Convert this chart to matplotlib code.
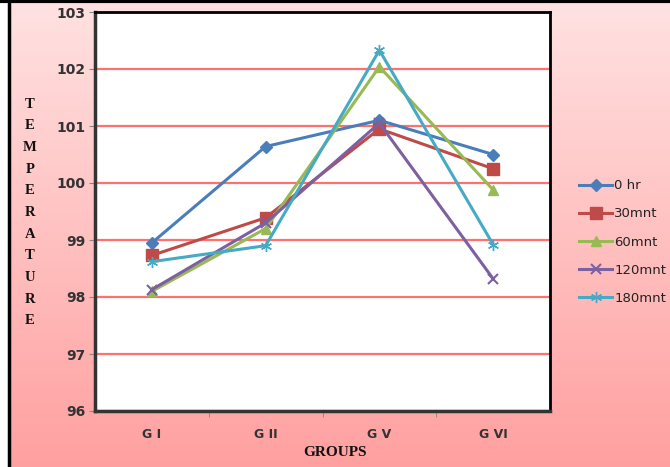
import numpy as np
import matplotlib.pyplot as plt
from matplotlib.colors import LinearSegmentedColormap

groups = ['G I', 'G II', 'G V', 'G VI']
series = ['0 hr', '30mnt', '60mnt', '120mnt', '180mnt']
hr0 = [98.95, 100.64, 101.1, 100.5]
mnt30 = [98.73, 99.39, 100.95, 100.25]
mnt60 = [98.1, 99.2, 102.04, 99.88]
mnt120 = [98.13, 99.3, 101.05, 98.32]
mnt180 = [98.62, 98.9, 102.33, 98.92]
yticks = [96, 97, 98, 99, 100, 101, 102, 103]

colors = ['#4A7EBB', '#BE4B48', '#98B954', '#7D60A0', '#46AAC5']
markers = ['D', 's', '^', 'x', (6, 2, 0)]
msizes = [6, 8, 7, 7, 8]

fig = plt.figure(figsize=(6.7, 4.67), dpi=100)

# pink gradient background
bg = fig.add_axes([0, 0, 1, 1], zorder=-10)
cmap = LinearSegmentedColormap.from_list('pk', ['#FFE2E2', '#FFA0A0'])
grad = np.linspace(0, 1, 256).reshape(-1, 1)
bg.imshow(grad, aspect='auto', cmap=cmap, extent=[0, 1, 0, 1], origin='upper')
bg.set_xlim(0, 1)
bg.set_ylim(0, 1)
bg.axis('off')
# white strip + black frame at the left and top edge
bg.axvspan(0, 7 / 670, color='white')
bg.axvline(8.5 / 670, color='black', lw=2.5)
bg.axhline(1 - 1 / 467, color='black', lw=3)

ax = fig.add_axes([95 / 670, 1 - 411 / 467, 455 / 670, 399 / 467])
ax.set_facecolor('white')
x = np.arange(len(groups))
for name, vals, c, m, ms in zip(series, [hr0, mnt30, mnt60, mnt120, mnt180], colors, markers, msizes):
    ax.plot(x, vals, color=c, lw=2.2, marker=m, ms=ms, mew=1.5 if m in ('x',) else 1,
            mec=c, mfc=c, label=name, zorder=3)

ax.set_xlim(-0.5, 3.5)
ax.set_ylim(96, 103)
ax.set_yticks(yticks)
ax.set_xticks(x)
ax.set_xticklabels(groups)
ax.set_xticks([0.5, 1.5, 2.5], minor=True)
ax.tick_params(axis='x', which='major', length=0, pad=12, labelsize=9, colors='#333333')
ax.tick_params(axis='x', which='minor', length=4, color='#888888')
ax.tick_params(axis='y', length=4, color='#888888', labelsize=10, colors='#333333', pad=3)
for lab in ax.get_xticklabels() + ax.get_yticklabels():
    lab.set_fontweight('bold')
    lab.set_color('#333333')
ax.grid(axis='y', color='#FF7070', lw=1.6)
ax.set_axisbelow(True)
for s in ['left', 'bottom']:
    ax.spines[s].set_color('#333333')
    ax.spines[s].set_linewidth(2.5)
for s in ['top', 'right']:
    ax.spines[s].set_color('black')
    ax.spines[s].set_linewidth(2)

fig.text(0.5, 1 - 452 / 467, 'GROUPS', ha='center', va='center', fontsize=11,
         fontweight='bold', family='Liberation Serif', color='#111111')

word = 'TEMPERATURE'
for i, ch in enumerate(word):
    fig.text(30 / 670, 1 - (104 + i * 21.7) / 467, ch, ha='center', va='center',
             fontsize=10.5, fontweight='bold', family='Liberation Serif', color='#111111')

leg = ax.legend(loc='center left', bbox_to_anchor=(574 / 670, 1 - 242 / 467),
                bbox_transform=fig.transFigure, frameon=False, fontsize=9.5,
                handlelength=2.5, labelspacing=1.15, handletextpad=0.15, borderaxespad=0)
for t in leg.get_texts():
    t.set_color('#222222')

fig.savefig('out.png', dpi=100)
